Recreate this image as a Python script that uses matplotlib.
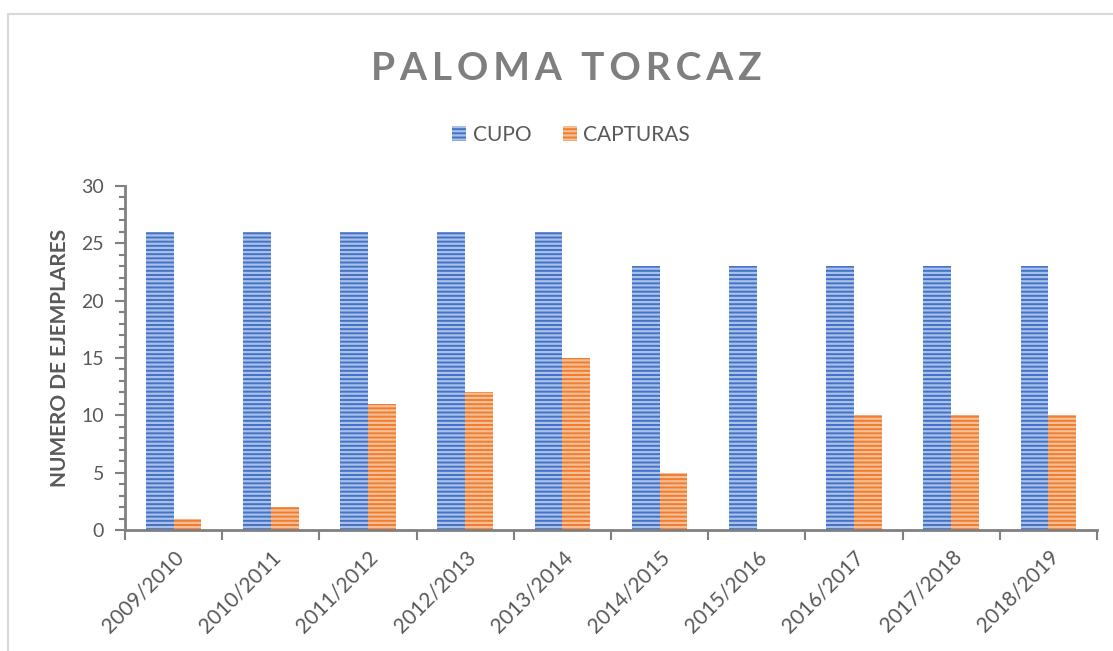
import matplotlib
matplotlib.use("Agg")
import matplotlib.pyplot as plt
from matplotlib.patches import Rectangle
from matplotlib.ticker import MultipleLocator
import numpy as np

# data
temporadas = ["2009/2010", "2010/2011", "2011/2012", "2012/2013", "2013/2014",
              "2014/2015", "2015/2016", "2016/2017", "2017/2018", "2018/2019"]
cupo = [26, 26, 26, 26, 26, 23, 23, 23, 23, 23]
capturas = [1, 2, 11, 12, 15, 5, 0, 10, 10, 10]

plt.rcParams['font.family'] = ['Lato', 'DejaVu Sans']
plt.rcParams['hatch.linewidth'] = 1.6

fig = plt.figure(figsize=(11.13, 6.51), dpi=100)
ax = fig.add_axes([125/1113, 1-530/651, (1097-125)/1113, (530-186)/651])

# chart border
fig.patches.append(Rectangle((8/1113, -0.05), 1.1, 1-14/651+0.05, transform=fig.transFigure,
                             fill=False, edgecolor="#D9D9D9", linewidth=1.5))

x = np.arange(len(temporadas))
w = 0.285
ax.bar(x - w/2, cupo, w, color="#4472C4", edgecolor="#A8C0EA", linewidth=0,
       hatch="----", label="CUPO")
ax.bar(x + w/2, capturas, w, color="#ED7D31", edgecolor="#F8BE94", linewidth=0,
       hatch="----", label="CAPTURAS")

gray = "#808080"
ax.set_xlim(-0.5, len(temporadas) - 0.5)
ax.set_ylim(0, 30)
for s in ["top", "right"]:
    ax.spines[s].set_visible(False)
for s in ["left", "bottom"]:
    ax.spines[s].set_color(gray)
    ax.spines[s].set_linewidth(2)

ax.yaxis.set_major_locator(MultipleLocator(5))
ax.yaxis.set_minor_locator(MultipleLocator(1))
ax.tick_params(axis="y", which="major", length=7, width=1.5, color=gray,
               labelsize=14, labelcolor="#595959", pad=8)
ax.tick_params(axis="y", which="minor", length=4, width=1.5, color=gray)

ax.set_xticks(x)
ax.set_xticklabels(temporadas, rotation=45, ha="right", rotation_mode="anchor")
ax.set_xticks(np.arange(-0.5, len(temporadas), 1), minor=True)
ax.tick_params(axis="x", which="major", length=0, labelsize=15,
               labelcolor="#595959", pad=12)
ax.tick_params(axis="x", which="minor", length=7, width=1.5, color=gray)

ax.set_ylabel("NUMERO DE EJEMPLARES", fontsize=15, fontweight="bold",
              color="#595959", labelpad=8)

titulo = "\u2009".join("PALOMA TORCAZ")
fig.text(566/1113, 1-68/651, titulo, ha="center", va="center",
         fontsize=28, fontweight="bold", color="#7F7F7F")

fig.legend(loc="center", bbox_to_anchor=(571/1113, 1-135/651), ncol=2, frameon=False,
           fontsize=15, labelcolor="#595959", handlelength=0.7, handleheight=0.7,
           handletextpad=0.3, columnspacing=1.5)

fig.savefig("out.png", dpi=100)
